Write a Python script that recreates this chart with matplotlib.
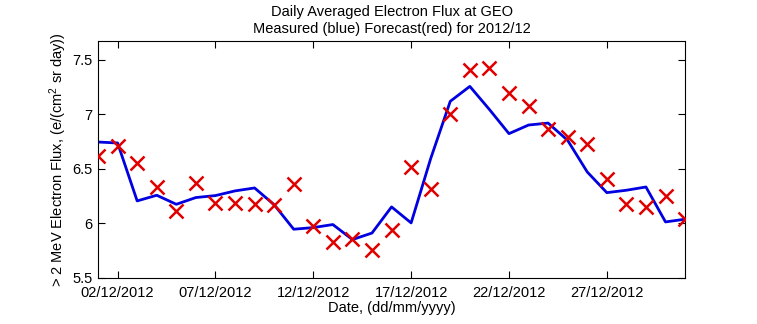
import matplotlib
matplotlib.use("Agg")
import matplotlib.pyplot as plt
from matplotlib import font_manager

# Day of month (December 2012)
days = list(range(1, 32))

# Measured daily averaged >2 MeV electron flux (log10)
measured = [6.746, 6.737, 6.205, 6.257, 6.174, 6.236, 6.254, 6.297, 6.324, 6.170,
            5.945, 5.960, 5.988, 5.850, 5.910, 6.150, 6.003, 6.594, 7.120, 7.257,
            7.045, 6.823, 6.902, 6.920, 6.761, 6.471, 6.281, 6.303, 6.333, 6.012,
            6.037]

# Forecast values (log10)
forecast = [6.617, 6.706, 6.553, 6.333, 6.113, 6.373, 6.186, 6.186, 6.174, 6.170,
            6.358, 5.976, 5.832, 5.853, 5.752, 5.936, 6.517, 6.318, 7.006, 7.410,
            7.425, 7.199, 7.080, 6.870, 6.795, 6.731, 6.410, 6.180, 6.150, 6.254,
            6.040]

tick_days = [2, 7, 12, 17, 22, 27]
tick_labels = ["02/12/2012", "07/12/2012", "12/12/2012",
               "17/12/2012", "22/12/2012", "27/12/2012"]
y_ticks = [5.5, 6, 6.5, 7, 7.5]
y_tick_labels = ["5.5", "6", "6.5", "7", "7.5"]

available = {f.name for f in font_manager.fontManager.ttflist}
main_font = "Liberation Sans Narrow" if "Liberation Sans Narrow" in available else "Liberation Sans"

plt.rcParams["font.family"] = [main_font, "DejaVu Sans"]
plt.rcParams["mathtext.fontset"] = "custom"
plt.rcParams["mathtext.rm"] = main_font
plt.rcParams["mathtext.it"] = main_font
plt.rcParams["font.size"] = 10

fig = plt.figure(figsize=(7.57, 3.24), dpi=100)
ax = fig.add_axes([0.1295, 0.1430, 0.7755, 0.7305])

ax.plot(days, measured, color="#0000e0", lw=2.0, zorder=2)
ax.plot(days, forecast, linestyle="none", marker="x", color="#e00000",
        markersize=10, markeredgewidth=1.8, zorder=3)

ax.set_xlim(1, 31)
ax.set_ylim(5.5, 7.674)
ax.set_xticks(tick_days)
ax.set_xticklabels(tick_labels)
ax.set_yticks(y_ticks)
ax.set_yticklabels(y_tick_labels)

ax.tick_params(direction="in", top=True, right=True, length=5, width=0.8,
               labelsize=10.5)
ax.tick_params(axis="x", pad=6)
ax.tick_params(axis="y", pad=4)
for s in ax.spines.values():
    s.set_linewidth(0.8)

ax.set_title("Daily Averaged Electron Flux at GEO\nMeasured (blue) Forecast(red) for 2012/12",
             fontsize=10.5, linespacing=1.25, pad=6)
ax.set_xlabel("Date, (dd/mm/yyyy)", fontsize=10.5, labelpad=1)
ax.set_ylabel(r"> 2 MeV Electron Flux, (e/(cm$^2$ sr day))", fontsize=10.5, labelpad=2)

fig.savefig("out.png", dpi=100)
